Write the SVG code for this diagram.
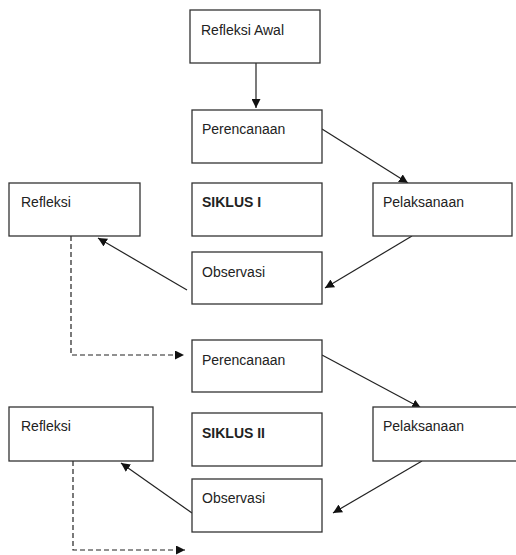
<svg xmlns="http://www.w3.org/2000/svg" width="516" height="555" viewBox="0 0 516 555">
<style>
.box{fill:#fff;stroke:#333;stroke-width:1.3}
.t{font-family:"Liberation Sans",Arial,sans-serif;font-size:14px;fill:#222}
.b{font-weight:bold}
.c{fill:none;stroke:#222;stroke-width:1.2}
.d{stroke-dasharray:5,3}
</style>
<defs>
<marker id="ah" viewBox="0 0 10 10" refX="10" refY="5" markerWidth="9" markerHeight="9" markerUnits="userSpaceOnUse" orient="auto">
<path d="M0,0 L10,5 L0,10 z" fill="#111"/>
</marker>
</defs>
<rect width="516" height="555" fill="#fff"/>
<g id="connectors">
<line class="c" x1="256" y1="63" x2="256" y2="108" marker-end="url(#ah)"/>
<line class="c" x1="322" y1="129" x2="408" y2="183" marker-end="url(#ah)"/>
<line class="c" x1="412" y1="236" x2="325" y2="288" marker-end="url(#ah)"/>
<line class="c" x1="187" y1="290" x2="98" y2="238" marker-end="url(#ah)"/>
<polyline class="c d" points="71,236 71,355 184,355" marker-end="url(#ah)"/>
<line class="c" x1="322" y1="355" x2="421" y2="408" marker-end="url(#ah)"/>
<line class="c" x1="422" y1="461" x2="333" y2="513" marker-end="url(#ah)"/>
<line class="c" x1="192" y1="513" x2="121" y2="463" marker-end="url(#ah)"/>
<polyline class="c d" points="73,461 73,550 185,550" marker-end="url(#ah)"/>
</g>
<g id="refleksi-awal"><rect class="box" x="190" y="10" width="130" height="53"/><text class="t" x="201" y="35">Refleksi Awal</text></g>
<g id="perencanaan1"><rect class="box" x="192" y="110" width="130" height="53"/><text class="t" x="202" y="134">Perencanaan</text></g>
<g id="refleksi1"><rect class="box" x="9" y="183" width="131" height="53"/><text class="t" x="21" y="207">Refleksi</text></g>
<g id="siklus1"><rect class="box" x="192" y="183" width="130" height="53"/><text class="t b" x="202" y="207">SIKLUS I</text></g>
<g id="pelaksanaan1"><rect class="box" x="373" y="183" width="139" height="53"/><text class="t" x="383" y="207">Pelaksanaan</text></g>
<g id="observasi1"><rect class="box" x="192" y="252" width="130" height="52"/><text class="t" x="202" y="277">Observasi</text></g>
<g id="perencanaan2"><rect class="box" x="192" y="340" width="130" height="52"/><text class="t" x="202" y="365">Perencanaan</text></g>
<g id="refleksi2"><rect class="box" x="9" y="407" width="144" height="54"/><text class="t" x="21" y="431">Refleksi</text></g>
<g id="siklus2"><rect class="box" x="192" y="413" width="130" height="53"/><text class="t b" x="202" y="438">SIKLUS II</text></g>
<g id="pelaksanaan2"><rect class="box" x="373" y="407" width="150" height="54"/><text class="t" x="383" y="431">Pelaksanaan</text></g>
<g id="observasi2"><rect class="box" x="192" y="479" width="130" height="53"/><text class="t" x="202" y="503">Observasi</text></g>
</svg>
